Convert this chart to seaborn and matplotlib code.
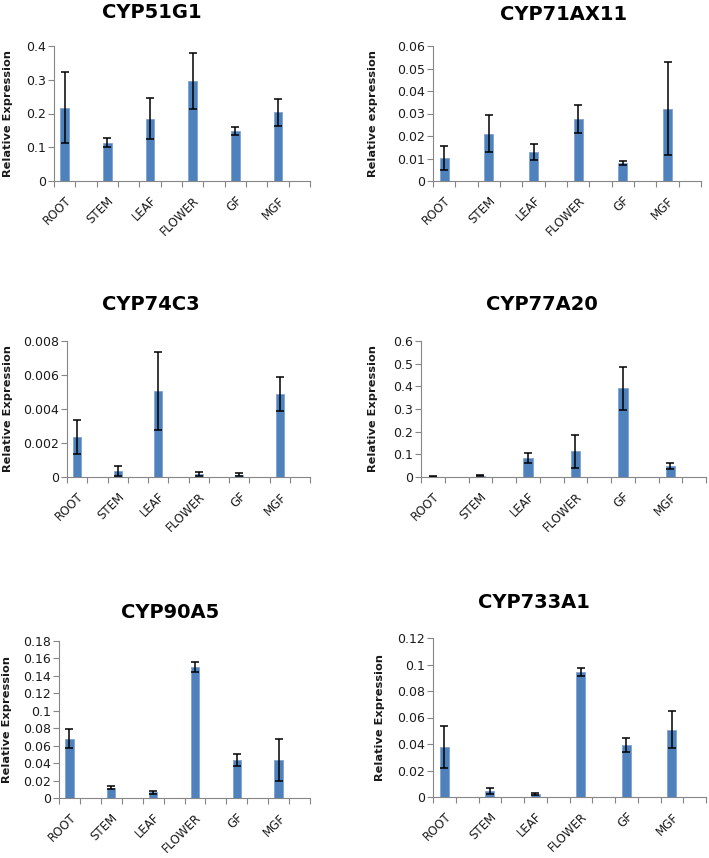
import numpy as np
import pandas as pd
import matplotlib
matplotlib.use("Agg")
import matplotlib.pyplot as plt
import seaborn as sns
from matplotlib.ticker import FuncFormatter, FixedLocator, MultipleLocator

sns.set_style("white")
plt.rcParams["font.family"] = ["DejaVu Sans"]

# %% Data
tissues = ["ROOT", "STEM", "LEAF", "FLOWER", "GF", "MGF"]
genes = ["CYP51G1", "CYP71AX11", "CYP74C3", "CYP77A20", "CYP90A5", "CYP733A1"]
ylabels = ["Relative Expression", "Relative expression", "Relative Expression",
           "Relative Expression", "Relative Expression", "Relative Expression"]

cyp51g1_mean = [0.217, 0.114, 0.185, 0.296, 0.148, 0.204]
cyp51g1_err = [0.105, 0.014, 0.060, 0.083, 0.012, 0.040]

cyp71ax11_mean = [0.0104, 0.0210, 0.0129, 0.0277, 0.0079, 0.0321]
cyp71ax11_err = [0.0053, 0.0083, 0.0035, 0.0062, 0.0008, 0.0207]

cyp74c3_mean = [0.00236, 0.00035, 0.00506, 0.00016, 0.00014, 0.0049]
cyp74c3_err = [0.00100, 0.00028, 0.00227, 0.00013, 0.00010, 0.0010]

cyp77a20_mean = [0.002, 0.006, 0.084, 0.114, 0.391, 0.050]
cyp77a20_err = [0.001, 0.002, 0.023, 0.073, 0.094, 0.013]

cyp90a5_mean = [0.068, 0.0118, 0.0065, 0.1507, 0.0435, 0.0435]
cyp90a5_err = [0.011, 0.0020, 0.0015, 0.0057, 0.0068, 0.0240]

cyp733a1_mean = [0.038, 0.0045, 0.0023, 0.094, 0.0395, 0.0508]
cyp733a1_err = [0.0158, 0.0020, 0.0005, 0.0030, 0.0053, 0.0140]

means = [cyp51g1_mean, cyp71ax11_mean, cyp74c3_mean, cyp77a20_mean, cyp90a5_mean, cyp733a1_mean]
errs = [cyp51g1_err, cyp71ax11_err, cyp74c3_err, cyp77a20_err, cyp90a5_err, cyp733a1_err]
ymax = [0.4, 0.06, 0.008, 0.6, 0.18, 0.12]
ystep = [0.1, 0.01, 0.002, 0.1, 0.02, 0.02]

# %% Layout in pixels: axes (left, top, right, bottom), title centre, ylabel centre x
W, H = 709, 858
axes_px = [(54, 46, 310, 181), (433, 46, 701, 181),
           (67, 341, 310, 477), (421, 341, 706, 477),
           (59, 641, 310, 798), (433, 638, 706, 797)]
title_px = [(152, 13), (564, 15), (151, 305), (542, 304), (170, 612), (534, 602)]
ylab_px = [8, 373, 8, 373, 7, 380]

BAR = "#4F81BD"
BAR_EDGE = "#7FA3D3"
GREY = "#868686"
INK = "#1a1a1a"

fig = plt.figure(figsize=(W / 100, H / 100), dpi=100)

for i, gene in enumerate(genes):
    l, t, r, b = axes_px[i]
    ax = fig.add_axes([l / W, 1 - b / H, (r - l) / W, (b - t) / H])
    df = pd.DataFrame({"tissue": tissues, "expr": means[i]})
    sns.barplot(data=df, x="tissue", y="expr", order=tissues, color=BAR,
                saturation=1, width=0.2, errorbar=None, ax=ax,
                edgecolor=BAR_EDGE, linewidth=0.6)
    ax.errorbar(np.arange(len(tissues)), means[i], yerr=errs[i], fmt="none",
                ecolor="black", elinewidth=1.1, capsize=2.6, capthick=1.1)

    ax.set_xlim(-0.25, 5.75)
    ax.set_ylim(0, ymax[i])
    ax.yaxis.set_major_locator(MultipleLocator(ystep[i]))
    ax.yaxis.set_major_formatter(FuncFormatter(lambda v, _: f"{v:.10g}" if abs(v) > 1e-12 else "0"))

    # category boundary ticks like the spreadsheet axis
    ax.xaxis.set_minor_locator(FixedLocator(np.arange(-0.25, 5.76, 0.5)))
    ax.tick_params(axis="x", which="major", length=0, pad=9.5)
    ax.tick_params(axis="x", which="minor", length=4, width=0.8, color=GREY, direction="out", bottom=True)
    ax.tick_params(axis="y", which="major", length=4, width=0.8, color=GREY, direction="out",
                   left=True, labelsize=9, labelcolor=INK, pad=2)
    ax.set_xticks(range(len(tissues)))
    ax.set_xticklabels(tissues, rotation=45, ha="right", va="top", rotation_mode="anchor",
                       fontsize=8.5, color=INK)

    sns.despine(ax=ax, top=True, right=True)
    for s in ["left", "bottom"]:
        ax.spines[s].set_color(GREY)
        ax.spines[s].set_linewidth(0.8)

    ax.set_xlabel("")
    ax.set_ylabel(ylabels[i], fontsize=8.2, fontweight="bold", color=INK, va="center")
    ax.yaxis.set_label_coords((ylab_px[i] - l) / (r - l), 0.5)

    tx, ty = title_px[i]
    fig.text(tx / W, 1 - ty / H, gene, ha="center", va="center",
             fontsize=14, fontweight="bold", color="black")

fig.savefig("out.png", dpi=100)
